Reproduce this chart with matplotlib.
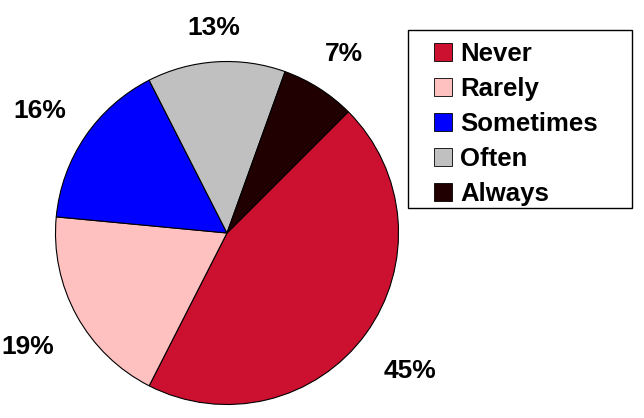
import numpy as np
import matplotlib
matplotlib.use('Agg')
from matplotlib import pyplot as plt
from matplotlib.patches import Rectangle

labels = ['Never', 'Rarely', 'Sometimes', 'Often', 'Always']
values = [45, 19, 16, 13, 7]
colors = ['#CC1030', '#FFC0C0', '#0000FF', '#C0C0C0', '#200000']

plt.rcParams['font.family'] = ['Liberation Sans', 'DejaVu Sans']
plt.rcParams['font.weight'] = 'bold'

fig = plt.figure(figsize=(6.44, 4.18), dpi=100)
R = 171.5  # pie radius in px
ax = fig.add_axes([(227 - R)/644, (418 - 233 - R)/418, 2*R/644, 2*R/418])

wedges, texts, autotexts = ax.pie(values, colors=colors, startangle=45, counterclock=False,
                                  autopct='%1.0f%%', pctdistance=1.2,
                                  wedgeprops=dict(edgecolor='black', linewidth=0.8),
                                  textprops=dict(fontsize=19, fontweight='bold', color='black'))
ax.set_xlim(-1, 1)
ax.set_ylim(-1, 1)
ax.set_aspect('equal')

# push labels out so their box sits a fixed gap off the rim
fig.canvas.draw()
rend = fig.canvas.get_renderer()
gap = 28
for w, t in zip(wedges, autotexts):
    ang = np.deg2rad((w.theta1 + w.theta2) / 2)
    bb = t.get_window_extent(rend)
    d = R + gap + abs(np.cos(ang)) * bb.width / 2 + abs(np.sin(ang)) * bb.height / 2.6
    t.set_position((np.cos(ang) * d / R, (np.sin(ang) * d - 5) / R))

leg = fig.legend(wedges, labels, loc='upper left', bbox_to_anchor=(434/644, 1 - 42/418),
                 borderaxespad=0, frameon=False, borderpad=0,
                 prop=dict(size=18.5, weight='bold'), handlelength=0.7, handleheight=0.7,
                 handletextpad=0.33, labelspacing=0.43)
for t in leg.get_texts():
    t.set_weight('bold')
for h in leg.legend_handles:
    h.set_edgecolor('black')
    h.set_linewidth(0.6)

fig.add_artist(Rectangle((408/644, 1 - 208/418), 224/644, 178/418, transform=fig.transFigure,
                         fill=False, edgecolor='black', linewidth=1.0))

plt.savefig('out.png', dpi=100)
